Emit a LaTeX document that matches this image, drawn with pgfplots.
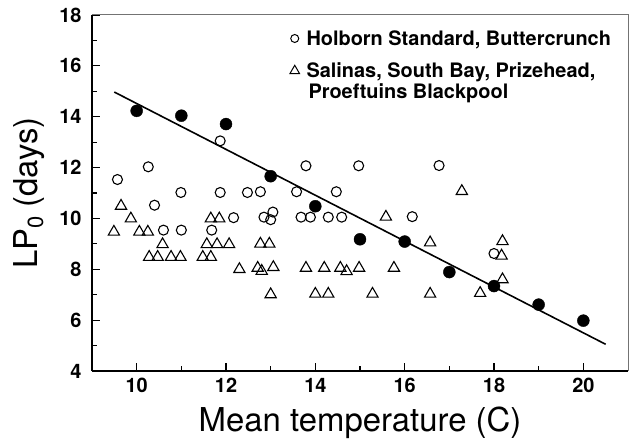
\documentclass[border=0pt]{standalone}
\usepackage{fontspec}
\setmainfont{TeX Gyre Heros}
\usepackage{pgfplots}
\pgfplotsset{compat=1.18}
\begin{document}
\begin{tikzpicture}
\begin{axis}[
  scale only axis, width=536bp, height=356bp,
  xmin=9, xmax=21, ymin=4, ymax=18,
  axis x line*=bottom, axis y line*=left,
  axis line style={line width=1.4pt, black},
  clip=false,
  xtick={10,12,...,20}, ytick={4,6,...,18},
  minor tick num=1,
  tick align=inside,
  major tick length=8bp, minor tick length=5bp,
  every tick/.style={line width=1.2pt, black},
  /pgf/number format/assume math mode=true,
  ticklabel style={font=\fontsize{20}{24}\selectfont\bfseries},
  yticklabel style={xshift=-7bp},
  xticklabel style={yshift=-4bp},
  xlabel={Mean temperature (C)},
  ylabel={LP{\raisebox{-0.35ex}{\fontsize{22}{22}\selectfont 0}} (days)},
  label style={font=\fontsize{33}{36}\selectfont},
  xlabel style={at={(axis description cs:0.5,-0.1713)}, anchor=base},
  ylabel style={at={(axis description cs:-0.1026,0.5)}, anchor=base},
  legend style={draw=none, fill=none, at={(axis description cs:0.369,0.963)}, anchor=north west,
    font=\fontsize{20}{20.5}\selectfont\bfseries, row sep=12bp, inner sep=0pt,
    /tikz/every odd column/.style={column sep=5bp}},
  legend cell align=left,
]
% open circles
\addplot[only marks, mark=o, mark size=5bp, line width=1.1pt, black, forget plot] coordinates {
(9.57,11.53) (10.26,12.03) (10.4,10.52) (10.99,11.02) (11.87,13.05) (11.87,11.02)
(12.48,11.02) (12.77,11.05) (12.17,10.03) (10.6,9.54) (11.0,9.54) (11.68,9.54)
(12.85,10.05) (13.05,10.25) (13.0,9.95) (13.68,10.05) (13.89,10.05) (14.29,10.05)
(14.59,10.05) (16.17,10.07) (13.79,12.07) (14.97,12.07) (16.77,12.08) (13.58,11.05)
(14.47,11.05) (18.0,8.62)
};
% triangles
\addplot[only marks, mark=triangle, mark size=6.5bp, line width=1.1pt, black, forget plot] coordinates {
(9.65,10.49) (9.87,9.99) (9.49,9.47) (10.06,9.47) (10.25,9.47) (10.58,8.98)
(10.28,8.48) (10.47,8.48) (10.77,8.48) (10.98,8.48) (11.48,8.48) (11.66,8.48)
(11.57,8.98) (11.8,8.98) (12.07,8.98) (11.66,9.99) (11.85,9.99) (12.3,8.0)
(12.71,8.05) (12.8,7.93) (12.77,9.0) (12.97,9.0) (13.06,8.08) (13.0,7.01)
(13.79,8.05) (14.2,8.05) (14.56,8.05) (14.7,7.92) (14.98,8.05) (15.76,8.05)
(14.0,7.03) (14.29,7.03) (15.28,7.03) (16.57,7.03) (16.57,9.05) (15.58,10.06)
(17.28,11.07) (18.19,9.1) (18.17,8.53) (18.19,7.6) (17.69,7.06)
};
% regression line
\addplot[line width=1.6pt, black, forget plot] coordinates {(9.5,14.97) (20.5,5.05)};
% filled circles
\addplot[only marks, mark=*, mark size=6bp, black, forget plot] coordinates {
(10,14.23) (11,14.04) (12,13.71) (13,11.66) (14,10.48) (15,9.18)
(16,9.09) (17,7.89) (18,7.34) (19,6.61) (20,5.98)
};
\addlegendimage{only marks, mark=o, mark size=4bp, line width=1pt, black}
\addlegendentry{Holborn Standard, Buttercrunch}
\addlegendimage{only marks, mark=triangle, mark size=5.5bp, line width=1pt, black}
\addlegendentry{\raisebox{0pt}[\height][0pt]{\begin{tabular}[t]{@{}l@{}}Salinas, South Bay, Prizehead,\\\hspace{2bp}Proeftuins Blackpool\end{tabular}}}
\draw[black!55, line width=1pt] (rel axis cs:0,1) -- (rel axis cs:1,1) -- (rel axis cs:1,0);
\coordinate (O) at (rel axis cs:0,0);
\end{axis}
\pgfresetboundingbox
\path[use as bounding box] ([shift={(-92bp,-69bp)}]O) rectangle ([shift={(538bp,371bp)}]O);
\end{tikzpicture}
\end{document}
